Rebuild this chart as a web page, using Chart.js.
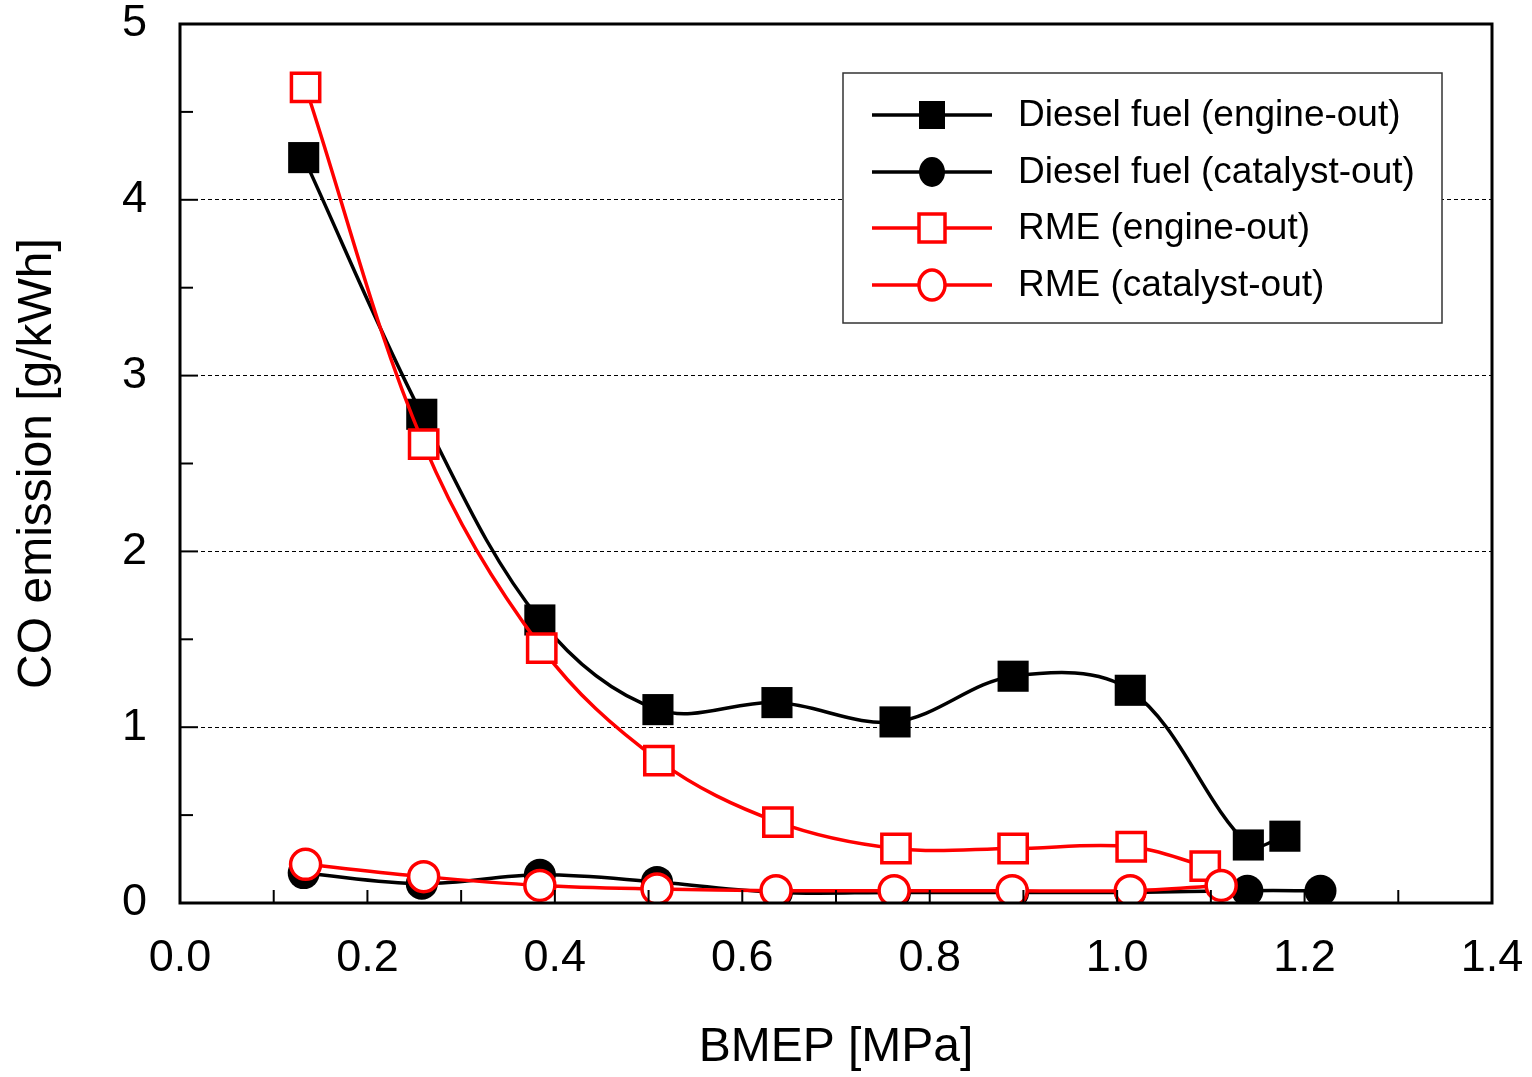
<!DOCTYPE html>
<html>
<head>
<meta charset="utf-8">
<script src="https://cdn.jsdelivr.net/npm/chart.js@4"></script>
<style>
  html, body { margin: 0; padding: 0; background: #fff; }
  #wrap { width: 1532px; height: 1077px; }
</style>
</head>
<body>
<div id="wrap"><canvas id="co"></canvas></div>
<script>
// datos
const dieselEngineX = [0.132, 0.258, 0.384, 0.510, 0.637, 0.763, 0.889, 1.014, 1.140, 1.179];
const dieselEngineY = [4.24, 2.78, 1.61, 1.10, 1.14, 1.03, 1.29, 1.21, 0.33, 0.38];

const dieselCatX = [0.132, 0.258, 0.384, 0.509, 0.637, 0.763, 0.889, 1.014, 1.139, 1.217];
const dieselCatY = [0.17, 0.11, 0.16, 0.12, 0.06, 0.06, 0.06, 0.06, 0.07, 0.07];

const rmeEngineX = [0.134, 0.260, 0.386, 0.511, 0.638, 0.764, 0.889, 1.015, 1.094];
const rmeEngineY = [4.64, 2.61, 1.45, 0.81, 0.46, 0.31, 0.31, 0.32, 0.21];

const rmeCatX = [0.134, 0.260, 0.384, 0.509, 0.636, 0.762, 0.888, 1.014, 1.111];
const rmeCatY = [0.22, 0.15, 0.10, 0.08, 0.07, 0.07, 0.07, 0.07, 0.10];

const labels = ['Diesel fuel (engine-out)', 'Diesel fuel (catalyst-out)', 'RME (engine-out)', 'RME (catalyst-out)'];

const FONT = '"Liberation Sans", Arial, sans-serif';

function pts(xs, ys) {
    return xs.map((x, i) => ({ x: x, y: ys[i] }));
}

// marco, ticks hacia adentro y leyenda
const frame = {
    id: 'frame',
    afterDraw(chart) {
        const { ctx, chartArea: a, scales } = chart;
        ctx.save();
        ctx.strokeStyle = '#000';
        ctx.lineWidth = 2;
        for (let v = 0; v <= 5.001; v += 0.5) {
            const y = scales.y.getPixelForValue(v);
            const len = Math.abs(v - Math.round(v)) < 0.01 ? 18 : 13;
            ctx.beginPath(); ctx.moveTo(a.left, y); ctx.lineTo(a.left + len, y); ctx.stroke();
        }
        for (let v = 0.1; v < 1.4; v += 0.1) {
            const x = scales.x.getPixelForValue(v);
            ctx.beginPath(); ctx.moveTo(x, a.bottom); ctx.lineTo(x, a.bottom - 13); ctx.stroke();
        }
        ctx.lineWidth = 3;
        ctx.strokeRect(a.left, a.top, a.right - a.left, a.bottom - a.top);

        // leyenda
        const bx = 843, by = 73, bw = 599, bh = 250;
        ctx.fillStyle = '#fff';
        ctx.fillRect(bx, by, bw, bh);
        ctx.lineWidth = 1.5;
        ctx.strokeStyle = '#333';
        ctx.strokeRect(bx, by, bw, bh);
        const rows = [115, 172, 228, 285];
        chart.data.datasets.forEach((ds, i) => {
            const y = rows[i];
            ctx.strokeStyle = ds.borderColor;
            ctx.lineWidth = 3.5;
            ctx.beginPath(); ctx.moveTo(872, y); ctx.lineTo(992, y); ctx.stroke();
            ctx.fillStyle = ds.pointBackgroundColor;
            ctx.strokeStyle = ds.pointBorderColor;
            ctx.lineWidth = ds.pointBorderWidth;
            ctx.beginPath();
            if (ds.pointStyle === 'rect') ctx.rect(932 - 13, y - 14, 26, 28);
            else ctx.ellipse(932, y, 13, 15, 0, 0, Math.PI * 2);
            ctx.fill();
            if (ds.pointBorderWidth > 0) ctx.stroke();
            ctx.fillStyle = '#000';
            ctx.font = '37px ' + FONT;
            ctx.textBaseline = 'middle';
            ctx.fillText(ds.label, 1018, y + 1);
        });
        ctx.restore();
    }
};

new Chart(document.getElementById('co'), {
    type: 'scatter',
    data: {
        datasets: [{
                label: labels[0],
                data: pts(dieselEngineX, dieselEngineY),
                showLine: true,
                tension: 0.35,
                borderColor: '#000',
                borderWidth: 3.5,
                pointStyle: 'rect',
                pointRadius: 22,
                pointBackgroundColor: '#000',
                pointBorderColor: '#000',
                pointBorderWidth: 0,
                order: 3
            },
            {
                label: labels[1],
                data: pts(dieselCatX, dieselCatY),
                showLine: true,
                tension: 0.35,
                borderColor: '#000',
                borderWidth: 3.5,
                pointStyle: 'circle',
                pointRadius: 16,
                pointBackgroundColor: '#000',
                pointBorderColor: '#000',
                pointBorderWidth: 0,
                order: 2
            },
            {
                label: labels[2],
                data: pts(rmeEngineX, rmeEngineY),
                showLine: true,
                tension: 0.35,
                borderColor: '#ff0000',
                borderWidth: 3.5,
                pointStyle: 'rect',
                pointRadius: 20,
                pointBackgroundColor: '#fff',
                pointBorderColor: '#ff0000',
                pointBorderWidth: 3.5,
                order: 1
            },
            {
                label: labels[3],
                data: pts(rmeCatX, rmeCatY),
                showLine: true,
                tension: 0.35,
                borderColor: '#ff0000',
                borderWidth: 3.5,
                pointStyle: 'circle',
                pointRadius: 15,
                pointBackgroundColor: '#fff',
                pointBorderColor: '#ff0000',
                pointBorderWidth: 3.5,
                order: 0
            }
        ]
    },
    options: {
        responsive: true,
        maintainAspectRatio: false,
        animation: false,
        layout: { padding: { left: 9, right: 40, top: 24, bottom: 0 } },
        plugins: {
            legend: { display: false },
            tooltip: { enabled: false }
        },
        scales: {
            x: {
                type: 'linear',
                min: 0,
                max: 1.4,
                afterFit: s => { s.height = 174; s.paddingLeft = 0; s.paddingRight = 0; },
                ticks: {
                    stepSize: 0.2,
                    padding: 29,
                    color: '#000',
                    font: { family: FONT, size: 45 },
                    callback: v => v.toFixed(1)
                },
                grid: { display: false, drawTicks: false },
                border: { display: false },
                title: {
                    display: true,
                    text: 'BMEP [MPa]',
                    color: '#000',
                    font: { family: FONT, size: 48 },
                    padding: 0
                }
            },
            y: {
                min: 0,
                max: 5,
                afterFit: s => { s.width = 171; s.paddingTop = 0; s.paddingBottom = 0; },
                ticks: {
                    stepSize: 1,
                    padding: 33,
                    color: '#000',
                    font: { family: FONT, size: 45 }
                },
                grid: {
                    drawTicks: false,
                    lineWidth: 1,
                    color: c => (c.tick && c.tick.value > 0 && c.tick.value < 5) ? '#000' : 'rgba(0,0,0,0)'
                },
                border: { display: false, dash: [4, 3] },
                title: {
                    display: true,
                    text: 'CO emission [g/kWh]',
                    color: '#000',
                    font: { family: FONT, size: 48 },
                    padding: 0
                }
            }
        }
    },
    plugins: [frame]
});
</script>
</body>
</html>
